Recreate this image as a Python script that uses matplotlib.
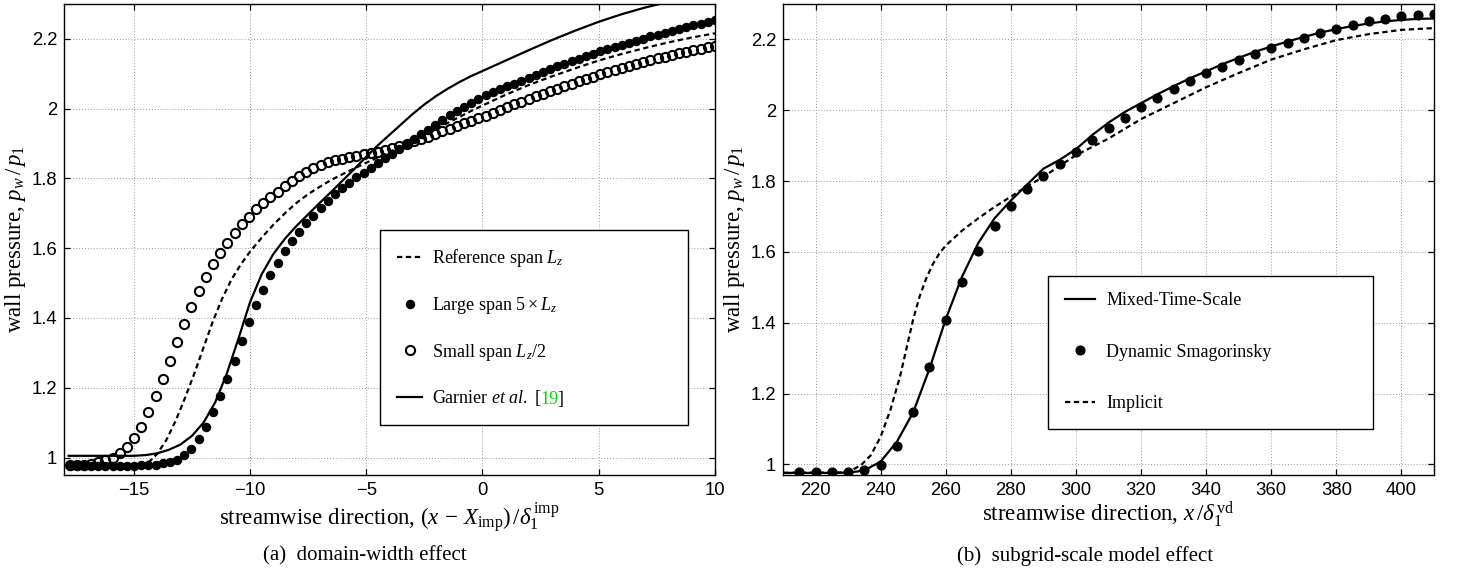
import numpy as np
import matplotlib
matplotlib.use("Agg")
import matplotlib.pyplot as plt

# Fuentes tipo Times para textos, Helvetica para los ticks
plt.rcParams['font.family'] = 'Liberation Serif'
plt.rcParams['mathtext.fontset'] = 'custom'
plt.rcParams['mathtext.rm'] = 'Liberation Serif'
plt.rcParams['mathtext.it'] = 'Liberation Serif:italic'
plt.rcParams['mathtext.bf'] = 'Liberation Serif:bold'

# ---------------- (a) domain-width effect ----------------
x_span = np.linspace(-17.76, 10.0, 91)

large_span = [
    0.977, 0.977, 0.977, 0.977, 0.977, 0.977, 0.977, 0.977, 0.977, 0.977,
    0.978, 0.979, 0.980, 0.983, 0.987, 0.993, 1.006, 1.025, 1.052, 1.087,
    1.130, 1.177, 1.226, 1.278, 1.334, 1.388, 1.436, 1.481, 1.522, 1.558,
    1.591, 1.620, 1.647, 1.671, 1.693, 1.714, 1.736, 1.755, 1.772, 1.788,
    1.803, 1.817, 1.831, 1.844, 1.858, 1.871, 1.884, 1.898, 1.912, 1.926,
    1.940, 1.953, 1.967, 1.981, 1.994, 2.006, 2.017, 2.028, 2.038, 2.047,
    2.055, 2.064, 2.072, 2.080, 2.089, 2.097, 2.105, 2.113, 2.121, 2.128,
    2.136, 2.143, 2.150, 2.157, 2.164, 2.170, 2.177, 2.183, 2.189, 2.195,
    2.201, 2.207, 2.212, 2.218, 2.223, 2.229, 2.234, 2.239, 2.244, 2.249,
    2.254]

small_span = [
    0.978, 0.979, 0.980, 0.982, 0.986, 0.993, 1.000, 1.012, 1.030, 1.055,
    1.089, 1.130, 1.175, 1.224, 1.277, 1.330, 1.382, 1.431, 1.477, 1.518,
    1.555, 1.587, 1.616, 1.644, 1.668, 1.690, 1.711, 1.729, 1.746, 1.762,
    1.777, 1.792, 1.806, 1.818, 1.829, 1.838, 1.846, 1.852, 1.857, 1.861,
    1.865, 1.869, 1.873, 1.877, 1.881, 1.886, 1.892, 1.899, 1.906, 1.913,
    1.920, 1.927, 1.935, 1.943, 1.950, 1.958, 1.965, 1.973, 1.980, 1.988,
    1.996, 2.004, 2.012, 2.019, 2.027, 2.035, 2.042, 2.050, 2.057, 2.064,
    2.071, 2.078, 2.085, 2.092, 2.099, 2.105, 2.111, 2.117, 2.123, 2.129,
    2.134, 2.139, 2.144, 2.149, 2.154, 2.159, 2.163, 2.168, 2.172, 2.177,
    2.181]

x_ref = [-17.8, -15.0, -14.6, -14.3, -14.0, -13.6, -13.2, -12.8, -12.4, -12.0,
         -11.6, -11.2, -10.8, -10.4, -10.0, -9.5, -9.0, -8.5, -8.0, -7.5,
         -7.0, -6.5, -6.0, -5.5, -5.0, -4.5, -4.0, -3.5, -3.0, -2.5,
         -2.0, -1.5, -1.0, -0.5, 0.0, 1.0, 2.0, 3.0, 4.0, 5.0,
         6.0, 7.0, 8.0, 9.0, 10.0]
ref_span = [0.976, 0.976, 0.980, 0.990, 1.010, 1.050, 1.105, 1.170, 1.240, 1.315,
            1.390, 1.455, 1.510, 1.553, 1.590, 1.630, 1.667, 1.700, 1.730, 1.755,
            1.776, 1.796, 1.813, 1.829, 1.845, 1.860, 1.876, 1.892, 1.908, 1.925,
            1.942, 1.959, 1.976, 1.993, 2.009, 2.040, 2.068, 2.093, 2.116, 2.138,
            2.157, 2.174, 2.190, 2.204, 2.216]

x_garnier = [-17.8, -15.0, -14.5, -14.0, -13.5, -13.0, -12.5, -12.0, -11.5, -11.0,
             -10.5, -10.0, -9.5, -9.0, -8.5, -8.0, -7.5, -7.0, -6.5, -6.0,
             -5.5, -5.0, -4.5, -4.0, -3.5, -3.0, -2.5, -2.0, -1.5, -1.0,
             -0.5, 0.0, 1.0, 2.0, 3.0, 4.0, 5.0, 6.0, 7.0, 8.0]
garnier = [1.005, 1.005, 1.007, 1.012, 1.022, 1.037, 1.062, 1.100, 1.158, 1.240,
           1.340, 1.445, 1.525, 1.583, 1.627, 1.664, 1.697, 1.730, 1.762, 1.795,
           1.828, 1.862, 1.895, 1.925, 1.955, 1.985, 2.012, 2.036, 2.057, 2.076,
           2.093, 2.108, 2.138, 2.168, 2.197, 2.224, 2.249, 2.271, 2.290, 2.306]

# ---------------- (b) subgrid-scale model effect ----------------
x_dyn = np.arange(215, 411, 5)
dyn_smag = [0.979, 0.979, 0.979, 0.979, 0.983, 0.998, 1.051, 1.148, 1.276, 1.407,
            1.515, 1.602, 1.672, 1.729, 1.778, 1.815, 1.848, 1.881, 1.917, 1.951,
            1.979, 2.010, 2.035, 2.061, 2.082, 2.104, 2.122, 2.143, 2.159, 2.176,
            2.191, 2.205, 2.218, 2.230, 2.241, 2.251, 2.258, 2.266, 2.270, 2.272]

x_mts = [210, 225, 230, 233, 236, 240, 245, 250, 255, 260,
         265, 270, 275, 280, 285, 290, 295, 300, 305, 310,
         315, 320, 325, 330, 335, 340, 345, 350, 355, 360,
         365, 370, 375, 380, 385, 390, 395, 400, 405, 410]
mts = [0.976, 0.976, 0.977, 0.980, 0.988, 1.008, 1.064, 1.147, 1.270, 1.410,
       1.530, 1.625, 1.695, 1.745, 1.790, 1.835, 1.860, 1.890, 1.930, 1.965,
       1.995, 2.020, 2.045, 2.068, 2.090, 2.110, 2.130, 2.148, 2.165, 2.180,
       2.194, 2.207, 2.219, 2.229, 2.238, 2.245, 2.251, 2.255, 2.258, 2.259]

x_impl = [210, 228, 231, 234, 237, 240, 243, 246, 248, 250,
          252, 254, 256, 258, 260, 265, 270, 275, 280, 285,
          290, 295, 300, 310, 320, 330, 340, 350, 360, 370,
          380, 390, 400, 410]
implicit = [0.976, 0.977, 0.983, 0.998, 1.026, 1.078, 1.154, 1.250, 1.330, 1.410,
            1.475, 1.525, 1.565, 1.595, 1.618, 1.660, 1.695, 1.727, 1.756, 1.785,
            1.812, 1.843, 1.873, 1.920, 1.975, 2.020, 2.065, 2.105, 2.143, 2.172,
            2.198, 2.215, 2.227, 2.232]

W, H = 1458, 571
fig = plt.figure(figsize=(W / 100, H / 100), dpi=100)
ax1 = fig.add_axes([64 / W, 96 / H, 651 / W, 471 / H])
ax2 = fig.add_axes([783 / W, 96 / H, 651 / W, 471 / H])

dash = (0, (2.4, 1.6))
lw = 1.6

ax1.plot(x_ref, ref_span, color='black', linestyle=dash, lw=lw, label=r'Reference span $L_z$')
ax1.plot(x_span, large_span, 'o', color='black', ms=5.8, label=r'Large span $5\times L_z$')
ax1.plot(x_span, small_span, 'o', mfc='none', mec='black', ms=6.6, mew=1.5, label=r'Small span $L_z/2$')
ax1.plot(x_garnier, garnier, color='black', lw=lw, label=r'Garnier $et\ al.$ [')
ax1.set_xlim(-18, 10)
ax1.set_ylim(0.95, 2.3)
ax1.set_xticks([-15, -10, -5, 0, 5, 10])
ax1.set_yticks([1, 1.2, 1.4, 1.6, 1.8, 2, 2.2])
ax1.set_yticklabels(['1', '1.2', '1.4', '1.6', '1.8', '2', '2.2'])
ax1.set_xlabel(r'streamwise direction, $(x\,-\,X_{\mathrm{imp}})\,/\delta_1^{\,\mathrm{imp}}$',
               fontsize=16.5, labelpad=1)

ax2.plot(x_mts, mts, color='black', lw=lw, label='Mixed-Time-Scale')
ax2.plot(x_dyn, dyn_smag, 'o', color='black', ms=6.3, label='Dynamic Smagorinsky')
ax2.plot(x_impl, implicit, color='black', linestyle=dash, lw=lw, label='Implicit')
ax2.set_xlim(210, 410)
ax2.set_ylim(0.97, 2.3)
ax2.set_xticks(range(220, 401, 20))
ax2.set_yticks([1, 1.2, 1.4, 1.6, 1.8, 2, 2.2])
ax2.set_yticklabels(['1', '1.2', '1.4', '1.6', '1.8', '2', '2.2'])
ax2.set_xlabel(r'streamwise direction, $x\,/\delta_1^{\,\mathrm{vd}}$', fontsize=16.5, labelpad=1)

for ax in (ax1, ax2):
    ax.set_ylabel(r'wall pressure, $p_w\,/\,p_1$', fontsize=16.5)
    ax.yaxis.set_label_coords(-0.055, 0.5)
    ax.grid(True, linestyle=(0, (1, 2)), color='0.6', lw=0.7)
    ax.tick_params(direction='in', top=True, right=True, length=4, width=0.9,
                   labelsize=13.3, pad=5, labelfontfamily='Liberation Sans')
    for s in ax.spines.values():
        s.set_linewidth(1.0)

leg1 = ax1.legend(loc='upper left', bbox_to_anchor=(0.485, 0.115, 0.473, 0.405), mode='expand',
                  borderaxespad=0, fontsize=13, fancybox=False, framealpha=1, edgecolor='black',
                  borderpad=0.95, labelspacing=1.42, handlelength=1.4, handletextpad=0.55)
leg1.get_frame().set_linewidth(1.0)

leg2 = ax2.legend(loc='upper left', bbox_to_anchor=(0.407, 0.093, 0.499, 0.33), mode='expand',
                  borderaxespad=0, fontsize=13, fancybox=False, framealpha=1, edgecolor='black',
                  borderpad=0.92, labelspacing=1.9, handlelength=1.7, handletextpad=0.6)
leg2.get_frame().set_linewidth(1.0)

# referencia [19] en verde
t_garnier = leg1.get_texts()[3]
a19 = ax1.annotate('19', xy=(1, 0), xycoords=t_garnier, xytext=(-0.8, 0), textcoords='offset points',
                   ha='left', va='bottom', fontsize=13, color='#00dd00', zorder=6, annotation_clip=False)
ax1.annotate(']', xy=(1, 0), xycoords=a19, xytext=(-0.8, 0), textcoords='offset points',
             ha='left', va='bottom', fontsize=13, color='black', zorder=7, annotation_clip=False)

fig.text(365 / W, 1 - 556 / H, '(a)  domain-width effect', ha='center', va='center', fontsize=15)
fig.text(1085 / W, 1 - 556 / H, '(b)  subgrid-scale model effect', ha='center', va='center', fontsize=15)

fig.savefig('out.png', dpi=100)
